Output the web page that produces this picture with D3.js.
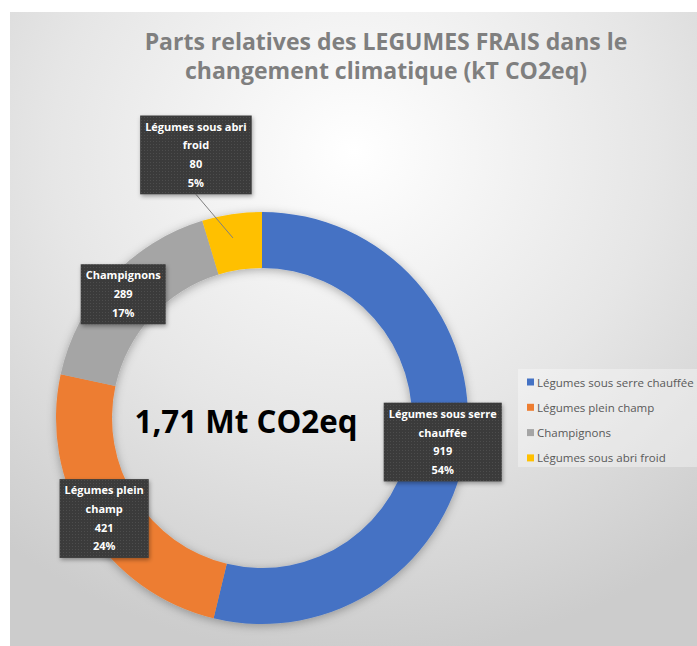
<!DOCTYPE html>
<html lang="fr">
<head>
<meta charset="UTF-8">
<title>Parts relatives des légumes frais</title>
<style>
    body { margin: 0; background: #fff; }
    svg { display: block; font-family: "Open Sans", "DejaVu Sans", sans-serif; }
    .title { fill: #7f7f7f; font-weight: bold; text-anchor: middle; }
    .center-label { fill: #000; font-weight: bold; text-anchor: middle; }
    .lbl-text { fill: #fff; font-weight: bold; font-size: 11px; text-anchor: middle; }
    .legend-text { fill: #595959; font-size: 11.5px; dominant-baseline: central; }
    .leader { stroke: #7f7f7f; stroke-width: 1; }
</style>
</head>
<body>
<svg id="chart" width="697" height="646"></svg>
<script src="https://cdn.jsdelivr.net/npm/d3@7"></script>
<script>
    // données (kT CO2eq)
    const categories = ["Légumes sous serre chauffée", "Légumes plein champ", "Champignons", "Légumes sous abri froid"];
    const values = [919, 421, 289, 80];
    const pctLabels = ["54%", "24%", "17%", "5%"];
    const colors = ["#4472c4", "#ed7d31", "#a5a5a5", "#ffc000"];
    const titleLines = ["Parts relatives des LEGUMES FRAIS dans le", "changement climatique (kT CO2eq)"];
    const centerLabel = "1,71 Mt CO2eq";

    const svg = d3.select("#chart");
    const cx = 262, cy = 418;
    const outerR = 206, innerR = 150;

    // décalage des étiquettes par rapport au centroïde, largeur de retour à la ligne
    const labelLayout = [
        {dx: 4, dy: 3, wrap: 124},
        {dx: -7, dy: 6, wrap: 92},
        {dx: -8, dy: -3, wrap: 90},
        {dx: -40, dy: -87, wrap: 118, leader: true}
    ];

    const defs = svg.append("defs");
    const grad = defs.append("radialGradient")
        .attr("id", "bg-grad")
        .attr("cx", "50%").attr("cy", "22%").attr("r", "80%");
    grad.append("stop").attr("offset", "0%").attr("stop-color", "#ffffff");
    grad.append("stop").attr("offset", "55%").attr("stop-color", "#e6e6e6");
    grad.append("stop").attr("offset", "100%").attr("stop-color", "#cccccc");

    const pat = defs.append("pattern")
        .attr("id", "dots")
        .attr("width", 3).attr("height", 3)
        .attr("patternUnits", "userSpaceOnUse");
    pat.append("rect").attr("width", 3).attr("height", 3).attr("fill", "#3b3b3b");
    pat.append("rect").attr("width", 1).attr("height", 1).attr("fill", "#4d4d4d");

    const shadow = defs.append("filter").attr("id", "shadow")
        .attr("x", "-20%").attr("y", "-20%").attr("width", "140%").attr("height", "140%");
    shadow.append("feDropShadow")
        .attr("dx", 1).attr("dy", 2).attr("stdDeviation", 2)
        .attr("flood-color", "#000").attr("flood-opacity", 0.35);

    const ringShadow = defs.append("filter").attr("id", "ring-shadow")
        .attr("x", "-20%").attr("y", "-20%").attr("width", "140%").attr("height", "140%");
    ringShadow.append("feDropShadow")
        .attr("dx", 0).attr("dy", 2).attr("stdDeviation", 5)
        .attr("flood-color", "#000").attr("flood-opacity", 0.3);

    // fond
    svg.append("rect")
        .attr("x", 10).attr("y", 12)
        .attr("width", 687).attr("height", 634)
        .attr("fill", "url(#bg-grad)");

    function fitText(sel, target, base) {
        sel.style("font-size", base + "px");
        let len = sel.node().getComputedTextLength();
        return base * target / len;
    }

    // titre
    const t1 = svg.append("text").attr("class", "title")
        .attr("x", 386).attr("y", 50).text(titleLines[0]);
    const tSize = fitText(t1, 483, 22);
    t1.style("font-size", tSize + "px");
    svg.append("text").attr("class", "title")
        .attr("x", 386).attr("y", 79)
        .style("font-size", tSize + "px")
        .text(titleLines[1]);

    // anneau
    const pie = d3.pie().sort(null).value(d => d);
    const arcs = pie(values);
    const arc = d3.arc().innerRadius(innerR).outerRadius(outerR);
    const midArc = d3.arc().innerRadius((innerR + outerR) / 2).outerRadius((innerR + outerR) / 2);

    const g = svg.append("g")
        .attr("transform", `translate(${cx},${cy})`);
    g.append("g")
        .attr("filter", "url(#ring-shadow)")
        .selectAll("path")
        .data(arcs)
        .enter()
        .append("path")
        .attr("d", arc)
        .attr("fill", (d, i) => colors[i]);

    // texte central
    const ct = svg.append("text").attr("class", "center-label")
        .attr("x", 246).attr("y", 433).text(centerLabel);
    ct.style("font-size", fitText(ct, 223, 30) + "px");

    // étiquettes de données
    const lineH = 18.7, pad = 5;
    arcs.forEach(function (d, i) {
        const lay = labelLayout[i];
        const c = midArc.centroid(d);
        const lx = cx + c[0] + lay.dx, ly = cy + c[1] + lay.dy;

        // retour à la ligne du nom
        const words = categories[i].split(" ");
        const probe = svg.append("text").attr("class", "lbl-text");
        let lines = [], cur = "";
        words.forEach(function (w) {
            const test = cur ? cur + " " + w : w;
            probe.text(test);
            if (probe.node().getComputedTextLength() > lay.wrap && cur) {
                lines.push(cur);
                cur = w;
            } else {
                cur = test;
            }
        });
        lines.push(cur);
        lines.push(String(values[i]));
        lines.push(pctLabels[i]);
        let maxW = 0;
        lines.forEach(function (l) {
            probe.text(l);
            maxW = Math.max(maxW, probe.node().getComputedTextLength());
        });
        probe.remove();

        const bw = maxW + pad * 2;
        const bh = lines.length * lineH + 4;

        if (lay.leader) {
            svg.append("line").attr("class", "leader")
                .attr("x1", lx).attr("y1", ly + bh / 2)
                .attr("x2", cx + c[0] - 3).attr("y2", cy + c[1] - 4);
        }

        const lg = svg.append("g");
        lg.append("rect")
            .attr("x", lx - bw / 2).attr("y", ly - bh / 2)
            .attr("width", bw).attr("height", bh)
            .attr("fill", "url(#dots)")
            .attr("filter", "url(#shadow)");
        lg.selectAll("text")
            .data(lines)
            .enter()
            .append("text")
            .attr("class", "lbl-text")
            .attr("x", lx)
            .attr("y", (l, j) => ly - bh / 2 + 2 + lineH * (j + 0.5))
            .attr("dy", "0.35em")
            .text(l => l);
    });

    // légende
    const legend = svg.append("g");
    legend.append("rect")
        .attr("x", 518).attr("y", 369)
        .attr("width", 179).attr("height", 98)
        .attr("fill", "#fff").attr("opacity", 0.35);
    const ly0 = 382, lstep = 25.3;
    const items = legend.selectAll("g.item")
        .data(categories)
        .enter()
        .append("g")
        .attr("class", "item")
        .attr("transform", (d, i) => `translate(527,${ly0 + i * lstep})`);
    items.append("rect")
        .attr("x", 0).attr("y", -3.5)
        .attr("width", 7).attr("height", 7)
        .attr("fill", (d, i) => colors[i]);
    items.append("text")
        .attr("class", "legend-text")
        .attr("x", 10).attr("y", 0)
        .text(d => d);
</script>
</body>
</html>
